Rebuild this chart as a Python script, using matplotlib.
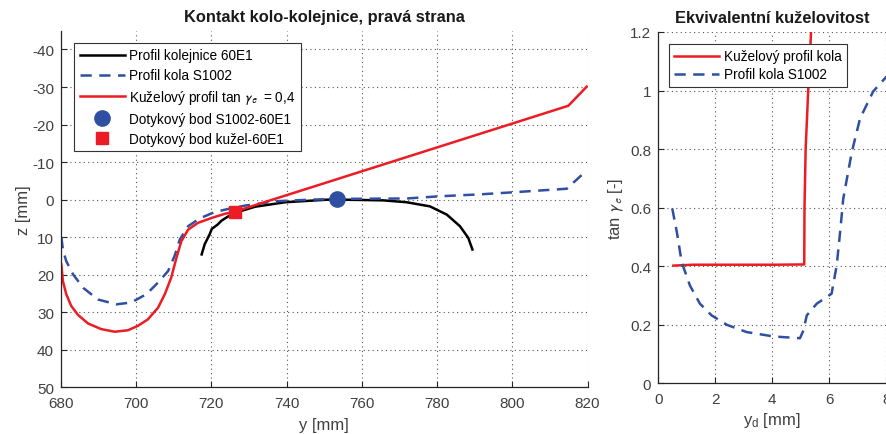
import numpy as np
import matplotlib
matplotlib.use("Agg")
import matplotlib.pyplot as plt

plt.rcParams["font.family"] = ["Liberation Sans", "DejaVu Sans"]
plt.rcParams["mathtext.fontset"] = "stixsans"
plt.rcParams["axes.unicode_minus"] = False

# ---------------- data ----------------
rail_y = [717.4, 718.2, 719.5, 720.1, 721.7, 722.7, 724.4, 726.3, 731.6,
          739.6, 751.1, 754.2, 765.7, 771.9, 778.1, 782.6, 786.1, 788.3,
          789.4]
rail_z = [14.6, 11.9, 9.3, 7.8, 6.6, 5.6, 4.5, 3.5, 1.9, 0.7, 0.0, 0.0,
          0.2, 0.7, 1.8, 4.0, 7.1, 10.2, 13.3]

s1002_y = [680.1, 680.5, 681.4, 683.2, 685.9, 689.8, 694.7, 698.7, 702.7,
           705.8, 708.5, 710.2, 711.6, 713.8, 716.9, 720.9, 724.4, 728.9,
           737.8, 746.7, 754.2, 771.9, 780.8, 791.4, 799.4, 814.5, 819.8]
s1002_z = [10.0, 13.3, 16.4, 19.9, 23.5, 26.6, 27.9, 27.4, 25.2, 22.1, 19.0,
           15.0, 10.6, 7.1, 5.0, 3.3, 2.5, 1.6, 0.4, 0.0, -0.2, -0.3, -0.9,
           -1.4, -1.9, -2.9, -7.8]

cone_y = [680.1, 680.5, 681.4, 682.7, 684.5, 687.2, 690.7, 694.3, 697.8,
          700.5, 703.1, 705.8, 707.6, 709.3, 710.7, 712.0, 713.8, 716.4,
          720.0, 723.5, 726.2, 814.9, 819.8]
cone_z = [17.3, 21.7, 25.2, 28.3, 30.7, 33.0, 34.5, 35.2, 34.8, 33.6, 31.9,
          28.8, 25.2, 20.8, 15.5, 11.1, 8.0, 6.2, 4.9, 3.8, 3.2, -25.0,
          -30.1]

pt_s1002 = (753.3, -0.1)
pt_cone = (726.3, 3.2)

# equivalent conicity
yd_cone = [0.53, 1.2, 2.0, 4.0, 5.12, 5.13, 5.17, 5.26, 5.36]
tg_cone = [0.402, 0.405, 0.405, 0.405, 0.406, 0.6, 0.8, 1.0, 1.2]

yd_s1002 = [0.49, 0.65, 0.82, 1.11, 1.46, 1.87, 2.4, 3.1, 4.04, 4.97, 5.09,
            5.21, 5.56, 6.08, 6.26, 6.38, 6.49, 6.79, 7.08, 7.54, 8.01]
tg_s1002 = [0.597, 0.517, 0.414, 0.334, 0.272, 0.232, 0.2, 0.175, 0.16,
            0.154, 0.18, 0.232, 0.272, 0.306, 0.403, 0.517, 0.631, 0.79,
            0.905, 0.997, 1.048]

RED = "#ec1c24"
BLUE = "#2f4fa2"
TXT = "#404040"
DASH = (0, (4.5, 3))


def style_axes(ax):
    ax.spines["top"].set_visible(False)
    ax.spines["right"].set_visible(False)
    for s in ("left", "bottom"):
        ax.spines[s].set_color("#262626")
        ax.spines[s].set_linewidth(0.9)
    ax.tick_params(direction="in", length=4, width=0.8, colors="#262626",
                   labelcolor=TXT, labelsize=11)
    ax.tick_params(axis="x", pad=6.5)
    ax.tick_params(axis="y", pad=5)
    ax.grid(True, ls=(0, (1, 3)), color="#555555", lw=0.8)
    ax.set_axisbelow(True)


def legend(ax, anchor, spacing):
    leg = ax.legend(loc="upper left", bbox_to_anchor=anchor, borderaxespad=0,
                    fontsize=9.8, frameon=True, fancybox=False,
                    edgecolor="#333333", framealpha=1, handlelength=3.3,
                    handletextpad=0.35, borderpad=0.4, labelspacing=spacing)
    leg.get_frame().set_linewidth(0.8)
    return leg


fig = plt.figure(figsize=(8.86, 4.35), dpi=100)

# ---------------- left: wheel/rail contact ----------------
ax1 = fig.add_axes([61 / 886, 1 - 388.3 / 435, 526.5 / 886, 356.6 / 435])
style_axes(ax1)
ax1.plot(rail_y, rail_z, color="black", lw=1.8, label="Profil kolejnice 60E1")
ax1.plot(s1002_y, s1002_z, color=BLUE, lw=1.8, ls=DASH,
         label="Profil kola S1002")
ax1.plot(cone_y, cone_z, color=RED, lw=1.8,
         label=r"Kuželový profil tan $\gamma_e$  = 0,4")
ax1.plot(*pt_s1002, "o", color=BLUE, ms=11, ls="none",
         label="Dotykový bod S1002-60E1")
ax1.plot(*pt_cone, "s", color=RED, ms=9, ls="none",
         label="Dotykový bod kužel-60E1")
ax1.set_xlim(680, 820)
ax1.set_ylim(50, -45)
ax1.set_xticks(np.arange(680, 821, 20))
ax1.set_yticks(np.arange(-40, 51, 10))
ax1.set_xlabel("y [mm]", fontsize=12, color=TXT, labelpad=5)
ax1.set_ylabel("z [mm]", fontsize=12, color=TXT, labelpad=1)
ax1.set_title("Kontakt kolo-kolejnice, pravá strana", fontsize=11.8,
              fontweight="bold", color="#1a1a1a", pad=7)
legend(ax1, (0.025, 0.966), 0.45)

# ---------------- right: equivalent conicity ----------------
ax2 = fig.add_axes([658.3 / 886, 1 - 384.3 / 435, 228 / 886, 351.3 / 435])
style_axes(ax2)
ax2.plot(yd_cone, tg_cone, color=RED, lw=1.8, label="Kuželový profil kola")
ax2.plot(yd_s1002, tg_s1002, color=BLUE, lw=1.8, ls=DASH,
         label="Profil kola S1002")
ax2.set_xlim(0, 8)
ax2.set_ylim(0, 1.2)
ax2.set_xticks([0, 2, 4, 6, 8])
ax2.set_yticks([0, 0.2, 0.4, 0.6, 0.8, 1.0, 1.2])
ax2.set_yticklabels(["0", "0.2", "0.4", "0.6", "0.8", "1", "1.2"])
ax2.set_xlabel(r"y$_\mathregular{d}$ [mm]", fontsize=12, color=TXT, labelpad=3)
ax2.set_ylabel(r"tan $\gamma_e$ [-]", fontsize=12, color=TXT, labelpad=3)
ax2.set_title("Ekvivalentní kuželovitost", fontsize=11.8, fontweight="bold",
              color="#1a1a1a", pad=7)
legend(ax2, (0.047, 0.966), 0.3)

fig.savefig("out.png", dpi=100)
